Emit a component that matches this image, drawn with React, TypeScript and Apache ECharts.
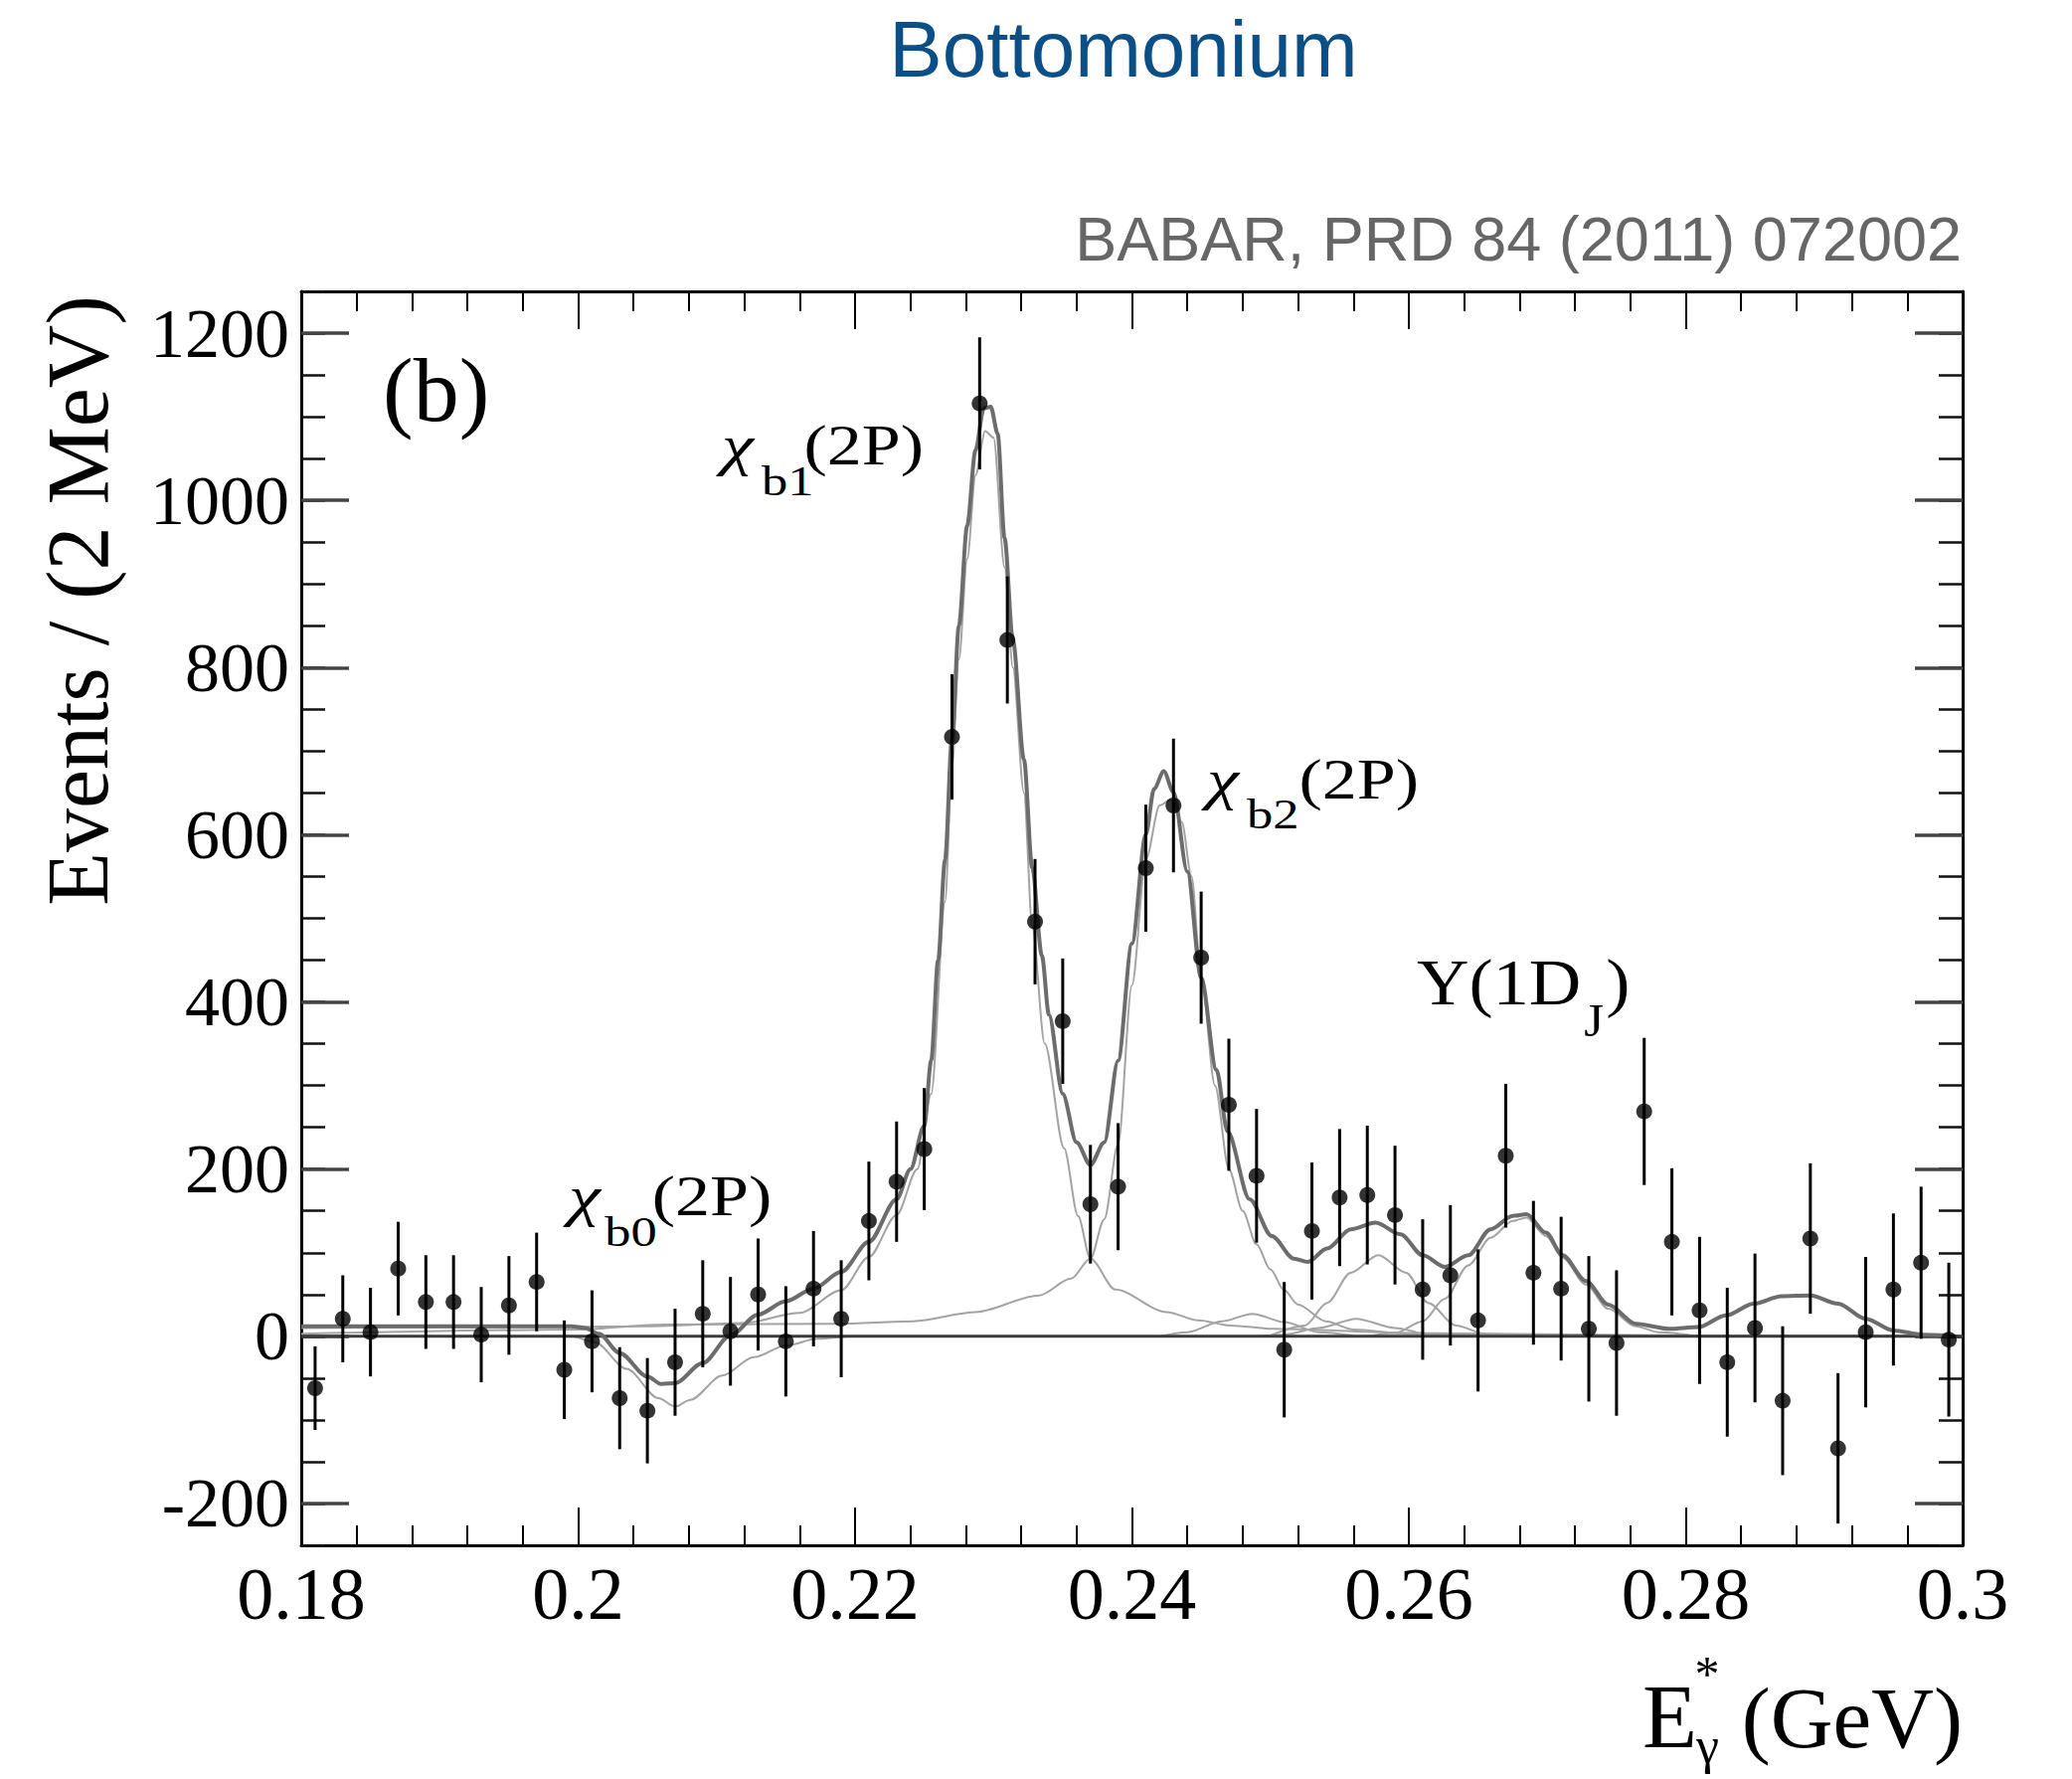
import React, { useEffect, useRef } from "react";
import * as echarts from "echarts";

const binCenters = [
  0.181, 0.183, 0.185, 0.187, 0.189, 0.191, 0.193, 0.195, 0.197, 0.199,
  0.201, 0.203, 0.205, 0.207, 0.209, 0.211, 0.213, 0.215, 0.217, 0.219,
  0.221, 0.223, 0.225, 0.227, 0.229, 0.231, 0.233, 0.235, 0.237, 0.239,
  0.241, 0.243, 0.245, 0.247, 0.249, 0.251, 0.253, 0.255, 0.257, 0.259,
  0.261, 0.263, 0.265, 0.267, 0.269, 0.271, 0.273, 0.275, 0.277, 0.279,
  0.281, 0.283, 0.285, 0.287, 0.289, 0.291, 0.293, 0.295, 0.297, 0.299,
];
const eventCounts = [
  -62, 21, 5, 81, 41, 41, 2, 37, 65, -40,
  -6, -74, -89, -31, 27, 6, 50, -6, 57, 21,
  138, 185, 224, 717, 1116, 833, 496, 377, 158, 179,
  560, 635, 453, 277, 192, -16, 126, 166, 169, 145,
  56, 73, 19, 216, 76, 57, 9, -8, 269, 113,
  31, -31, 10, -77, 117, -134, 5, 56, 88, -4,
];
const eventErrors = [
  50, 52, 53, 56, 56, 56, 57, 59, 59, 59,
  61, 61, 63, 64, 64, 65, 67, 66, 69, 70,
  71, 72, 73, 75, 79, 76, 75, 75, 71, 76,
  76, 80, 79, 79, 80, 81, 82, 82, 83, 83,
  84, 84, 85, 86, 86, 86, 87, 87, 88, 88,
  88, 89, 89, 89, 90, 90, 90, 91, 91, 92,
];

const fitTotal = [
  [0.18, 12], [0.19, 12], [0.1995, 12], [0.2005, 10], [0.2015, 3], [0.203, -20],
  [0.205, -48], [0.206, -57], [0.207, -56], [0.209, -32], [0.211, 1], [0.213, 26],
  [0.215, 42], [0.217, 57], [0.219, 77], [0.221, 113], [0.223, 164], [0.224, 200],
  [0.225, 252], [0.2255, 330], [0.226, 450], [0.2265, 570], [0.227, 715], [0.2275, 850],
  [0.2281, 970], [0.2287, 1060], [0.2293, 1110], [0.2298, 1112], [0.2303, 1080],
  [0.2308, 955], [0.2314, 833], [0.2322, 690], [0.2328, 560], [0.2335, 455],
  [0.234, 385], [0.235, 290], [0.236, 232], [0.237, 205], [0.238, 232], [0.239, 330],
  [0.24, 470], [0.241, 600], [0.2416, 655], [0.2423, 676], [0.243, 651], [0.244, 556],
  [0.245, 429], [0.2461, 319], [0.2469, 245], [0.2485, 164], [0.2501, 120],
  [0.2517, 93], [0.2527, 89], [0.2541, 105], [0.2558, 128], [0.2576, 136],
  [0.2594, 122], [0.261, 97], [0.2626, 83], [0.2643, 97], [0.2659, 128], [0.2675, 144],
  [0.2685, 146], [0.2699, 124], [0.2711, 97], [0.2728, 66], [0.2744, 38], [0.2764, 15],
  [0.2788, 9], [0.2809, 11], [0.2829, 25], [0.2849, 39], [0.2869, 48], [0.289, 49],
  [0.291, 39], [0.293, 21], [0.295, 7], [0.2971, 2], [0.299, 1],
];
const fitChib1 = [
  [0.18, 10], [0.195, 11], [0.205, 12], [0.212, 16], [0.216, 28], [0.219, 55],
  [0.221, 95], [0.223, 145], [0.2245, 200], [0.2255, 290], [0.2265, 520], [0.227, 680],
  [0.2275, 810], [0.2281, 930], [0.2287, 1030], [0.2294, 1083], [0.23, 1075],
  [0.2308, 920], [0.2314, 800], [0.2322, 650], [0.2328, 490], [0.2337, 350],
  [0.2351, 225], [0.2361, 144], [0.237, 93], [0.2388, 56], [0.2425, 29], [0.2448, 19],
  [0.2471, 13], [0.2502, 9], [0.26, 4], [0.28, 1], [0.3, 0],
];
const fitChib2 = [
  [0.18, 3], [0.2, 8], [0.206, 14], [0.2187, 15], [0.2242, 18], [0.2287, 29],
  [0.2333, 49], [0.2356, 69], [0.237, 93], [0.238, 140], [0.239, 230], [0.24, 420],
  [0.241, 570], [0.242, 635], [0.2428, 642], [0.2436, 615], [0.2443, 550], [0.245, 430],
  [0.246, 300], [0.247, 200], [0.248, 150], [0.249, 110], [0.25, 80], [0.251, 55],
  [0.252, 38], [0.254, 18], [0.256, 8], [0.26, 3], [0.27, 1], [0.3, 0],
];
const fitChib0 = [
  [0.18, 0], [0.1995, 0], [0.2012, -7], [0.2035, -39], [0.2058, -74], [0.207, -84],
  [0.2081, -76], [0.2104, -47], [0.2127, -25], [0.215, -11], [0.2173, -3], [0.22, 0],
  [0.3, 0],
];
const fitBumpA = [
  [0.242, 0], [0.244, 5], [0.2465, 18], [0.2487, 27], [0.251, 17], [0.2535, 5], [0.256, 1],
];
const fitBumpB = [
  [0.249, 0], [0.251, 2], [0.2535, 10], [0.2562, 21], [0.259, 10], [0.2615, 2], [0.264, 0],
];
const fitBumpC = [
  [0.25, 1], [0.2525, 13], [0.2541, 40], [0.2558, 76], [0.2578, 97], [0.2598, 76],
  [0.2614, 40], [0.2634, 13], [0.2655, 3], [0.268, 0],
];
const fitUpsilon1D = [
  [0.257, 0], [0.259, 4], [0.261, 18], [0.2626, 45], [0.2643, 85], [0.2659, 118],
  [0.2675, 138], [0.2685, 142], [0.2699, 120], [0.2711, 94], [0.2728, 62], [0.2744, 33],
  [0.2764, 12], [0.278, 5], [0.281, 0],
];
const zeroLine = [[0.18, 0], [0.3, 0]];

const yMajorTicks = [-200, 0, 200, 400, 600, 800, 1000, 1200];

const SERIF = "'Liberation Serif', 'Times New Roman', serif";
const SANS = "'Liberation Sans', Arial, sans-serif";

function serifText(text: string, x: number, baseline: number, size: number, extra: any = {}) {
  return {
    type: "text",
    x,
    y: baseline - 0.3375 * size,
    style: {
      text,
      fontSize: size,
      fontFamily: SERIF,
      fill: "#000",
      align: "left",
      verticalAlign: "middle",
      ...extra,
    },
  };
}

export default function App() {
  const ref = useRef<HTMLDivElement>(null);

  useEffect(() => {
    if (!ref.current) return;
    const chart = echarts.init(ref.current, null, { renderer: "svg" });

    const thin = { color: "#a3a3a3", width: 2 };
    const lineSeries = (data: number[][], style: any, z: number) => ({
      type: "line",
      data,
      xAxisIndex: 0,
      yAxisIndex: 0,
      showSymbol: false,
      symbol: "none",
      smooth: 0.3,
      smoothMonotone: "x",
      lineStyle: style,
      z,
      silent: true,
    });

    const xAxisBase = {
      type: "value",
      min: 0.18,
      max: 0.3,
      interval: 0.02,
      axisLine: { show: true, onZero: false, lineStyle: { color: "#000", width: 3 } },
      axisTick: { show: true, inside: true, length: 38, lineStyle: { color: "#000", width: 2 } },
      minorTick: { show: true, splitNumber: 5, length: 20, lineStyle: { color: "#000", width: 2 } },
      splitLine: { show: false },
    };
    const yMinorBase = {
      type: "value",
      min: -250,
      max: 1250,
      interval: 50,
      axisLine: { show: true, onZero: false, lineStyle: { color: "#000", width: 3 } },
      axisTick: { show: true, inside: true, length: 24, lineStyle: { color: "#111", width: 2.5 } },
      splitLine: { show: false },
    };
    const yMajorBase = {
      type: "value",
      min: -250,
      max: 1250,
      axisLine: { show: false },
      axisTick: {
        show: true,
        inside: true,
        length: 48,
        customValues: yMajorTicks,
        lineStyle: { color: "#444", width: 3.5 },
      },
      axisLabel: { show: false },
      splitLine: { show: false },
    };

    const option: any = {
      animation: false,
      backgroundColor: "#fff",
      grid: { left: 303, top: 293, width: 1671, height: 1261, containLabel: false },
      xAxis: [
        {
          ...xAxisBase,
          position: "bottom",
          axisLabel: {
            show: true,
            margin: 12,
            fontSize: 74,
            fontFamily: SERIF,
            color: "#000",
            formatter: (v: number) => String(parseFloat(v.toFixed(4))),
          },
        },
        { ...xAxisBase, position: "top", axisLabel: { show: false } },
      ],
      yAxis: [
        {
          ...yMinorBase,
          position: "left",
          axisLabel: {
            show: true,
            margin: 12,
            fontSize: 70,
            fontFamily: SERIF,
            color: "#000",
            formatter: (v: number) => (Math.round(v) % 200 === 0 ? String(Math.round(v)) : ""),
          },
        },
        { ...yMajorBase, position: "left" },
        { ...yMinorBase, position: "right", axisLabel: { show: false } },
        { ...yMajorBase, position: "right" },
      ],
      series: [
        lineSeries(fitChib0, thin, 2),
        lineSeries(fitChib1, thin, 2),
        lineSeries(fitChib2, thin, 2),
        lineSeries(fitBumpA, thin, 2),
        lineSeries(fitBumpB, thin, 2),
        lineSeries(fitBumpC, thin, 2),
        lineSeries(fitUpsilon1D, thin, 2),
        lineSeries(zeroLine, { color: "#3c3c3c", width: 3 }, 3),
        lineSeries(fitTotal, { color: "#6c6c6c", width: 4 }, 4),
        {
          type: "custom",
          xAxisIndex: 0,
          yAxisIndex: 0,
          z: 5,
          silent: true,
          data: binCenters.map((x, i) => [x, eventCounts[i], eventErrors[i]]),
          encode: { x: 0, y: 1 },
          renderItem: (_params: any, api: any) => {
            const x = api.value(0);
            const y = api.value(1);
            const e = api.value(2);
            const top = api.coord([x, y + e]);
            const bot = api.coord([x, y - e]);
            return {
              type: "line",
              shape: { x1: top[0], y1: top[1], x2: bot[0], y2: bot[1] },
              style: { stroke: "#000", lineWidth: 3 },
            };
          },
        },
        {
          type: "scatter",
          xAxisIndex: 0,
          yAxisIndex: 0,
          z: 6,
          silent: true,
          symbol: "circle",
          symbolSize: 16,
          itemStyle: { color: "#000" },
          data: binCenters.map((x, i) => [x, eventCounts[i]]),
        },
      ],
      graphic: [
        {
          type: "text",
          x: 1130,
          y: 49,
          style: {
            text: "Bottomonium",
            fontSize: 80,
            fontFamily: SANS,
            fill: "#0b4f86",
            align: "center",
            verticalAlign: "middle",
          },
        },
        {
          type: "text",
          x: 1973,
          y: 240,
          style: {
            text: "BABAR, PRD 84 (2011) 072002",
            fontSize: 63,
            fontFamily: SANS,
            fill: "#666666",
            align: "right",
            verticalAlign: "middle",
          },
        },
        {
          type: "text",
          x: 78,
          y: 604,
          rotation: Math.PI / 2,
          style: {
            text: "Events / (2 MeV)",
            fontSize: 88,
            fontFamily: SERIF,
            fill: "#000",
            align: "center",
            verticalAlign: "middle",
          },
        },
        serifText("(b)", 385, 423, 92),
        // x axis title
        serifText("E", 1652, 1757, 90),
        serifText("γ", 1706, 1773, 52),
        {
          type: "text",
          x: 1717,
          y: 1683,
          style: {
            text: "*",
            fontSize: 50,
            fontFamily: SERIF,
            fill: "#000",
            align: "center",
            verticalAlign: "middle",
          },
        },
        serifText("(GeV)", 1974, 1757, 87, { align: "right" }),
        // particle labels
        {
          type: "group",
          x: 726,
          y: 0,
          scaleX: 1.25,
          children: [
            serifText("χ", 0, 467, 58, { fontStyle: "italic" }),
            serifText("b1", 32, 498, 42),
            serifText("(2P)", 66, 467, 56),
          ],
        },
        {
          type: "group",
          x: 1214,
          y: 0,
          scaleX: 1.25,
          children: [
            serifText("χ", 0, 803, 58, { fontStyle: "italic" }),
            serifText("b2", 32, 833, 42),
            serifText("(2P)", 74, 803, 56),
          ],
        },
        {
          type: "group",
          x: 572,
          y: 0,
          scaleX: 1.25,
          children: [
            serifText("χ", 0, 1222, 58, { fontStyle: "italic" }),
            serifText("b0", 29, 1253, 42),
            serifText("(2P)", 67, 1222, 56),
          ],
        },
        {
          type: "group",
          x: 1425,
          y: 0,
          scaleX: 1.1,
          children: [
            serifText("Υ(1D", 0, 1010, 66),
            serifText("J", 153, 1042, 46),
            serifText(")", 173, 1010, 66),
          ],
        },
      ],
    };

    chart.setOption(option);
    return () => chart.dispose();
  }, []);

  return (
    <div
      ref={ref}
      style={{ position: "absolute", left: 0, top: 0, width: 2084, height: 1789, background: "#fff" }}
    />
  );
}
